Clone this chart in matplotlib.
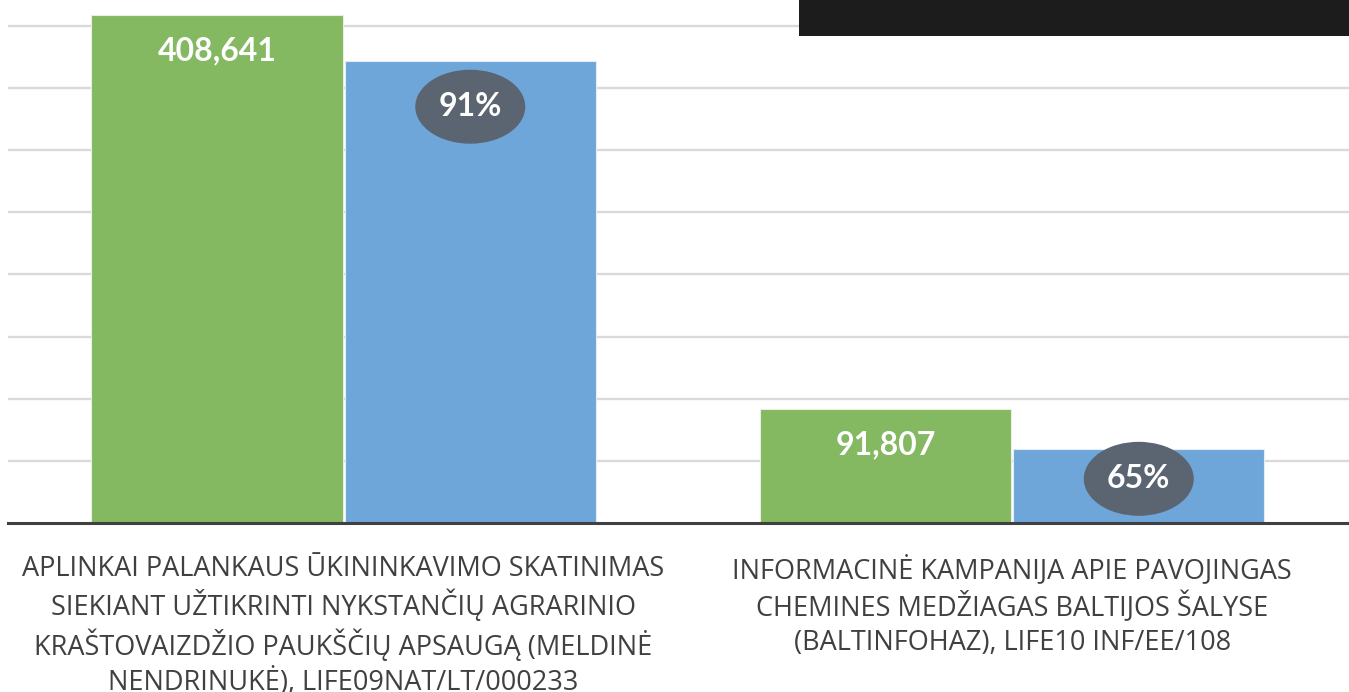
import matplotlib.pyplot as plt
import numpy as np
from matplotlib.patches import Ellipse, Rectangle
from matplotlib.transforms import ScaledTranslation

# data
categories = [
    "APLINKAI PALANKAUS ŪKININKAVIMO SKATINIMAS\nSIEKIANT UŽTIKRINTI NYKSTANČIŲ AGRARINIO\n"
    "KRAŠTOVAIZDŽIO PAUKŠČIŲ APSAUGĄ (MELDINĖ\nNENDRINUKĖ), LIFE09NAT/LT/000233",
    "INFORMACINĖ KAMPANIJA APIE PAVOJINGAS\nCHEMINES MEDŽIAGAS BALTIJOS ŠALYSE\n"
    "(BALTINFOHAZ), LIFE10 INF/EE/108",
]
budget = [408641, 91807]
share = [0.91, 0.65]
spent = [b * s for b, s in zip(budget, share)]

green = "#84b861"
blue = "#6fa6d9"
bubble = "#5b6572"
text_col = "#404040"

fig = plt.figure(figsize=(13.49, 6.92), dpi=100)
ax = fig.add_axes([8 / 1349, 169 / 692, 1341 / 1349, 523 / 692])

x = np.arange(len(categories))
w = 0.376
b1 = ax.bar(x - w / 2 - 0.0015, budget, w, color=green, edgecolor="#e8f0e0", linewidth=0.8, zorder=2)
b2 = ax.bar(x + w / 2 + 0.0015, spent, w, color=blue, edgecolor="#e3edf7", linewidth=0.8, zorder=2)

ax.set_xlim(-0.502, 1.504)
ax.set_ylim(0, 420700)
ax.set_yticks(np.arange(50000, 400001, 50000))
ax.yaxis.grid(True, color="#d9d9d9", linewidth=1.7)
ax.set_axisbelow(True)
ax.tick_params(left=False, bottom=False, labelleft=False, labelbottom=False)
for s in ["left", "right", "top"]:
    ax.spines[s].set_visible(False)
ax.spines["bottom"].set_color(text_col)
ax.spines["bottom"].set_linewidth(2.2)
ax.spines["bottom"].set_zorder(3)

# value labels on green bars
for rect, v in zip(b1, budget):
    ax.annotate(f"{v:,}", (rect.get_x() + rect.get_width() / 2, rect.get_height()),
                xytext=(0, -36), textcoords="offset pixels", ha="center", va="center",
                color="white", fontsize=23, fontweight="bold", family="Lato", zorder=5)

# percentage bubbles on blue bars
pct_offsets = [46, 30]
for rect, s, off in zip(b2, share, pct_offsets):
    cx = rect.get_x() + rect.get_width() / 2
    top = rect.get_height()
    tr = fig.dpi_scale_trans + ScaledTranslation(cx, top, ax.transData)
    ax.add_patch(Ellipse((0, -off / 100), 1.10, 0.74, transform=tr,
                         facecolor=bubble, edgecolor="none", zorder=4, clip_on=False))
    ax.annotate(f"{s:.0%}", (cx, top), xytext=(0, -off), textcoords="offset pixels",
                ha="center", va="center", color="white", fontsize=23,
                fontweight="bold", family="Lato", zorder=5)

# category labels
for i, lab in enumerate(categories):
    ax.annotate(lab, (i, 0), xytext=(0, -32), textcoords="offset pixels",
                ha="center", va="top", color=text_col, fontsize=19.5,
                family="Open Sans", fontweight="normal", linespacing=1.27,
                annotation_clip=False)

# dark box at the top right
fig.patches.append(Rectangle((799 / 1349, 1 - 36 / 692), 550 / 1349, 36 / 692,
                             transform=fig.transFigure, facecolor="#1c1c1c",
                             edgecolor="none", zorder=10))

fig.savefig("out.png", dpi=100)
